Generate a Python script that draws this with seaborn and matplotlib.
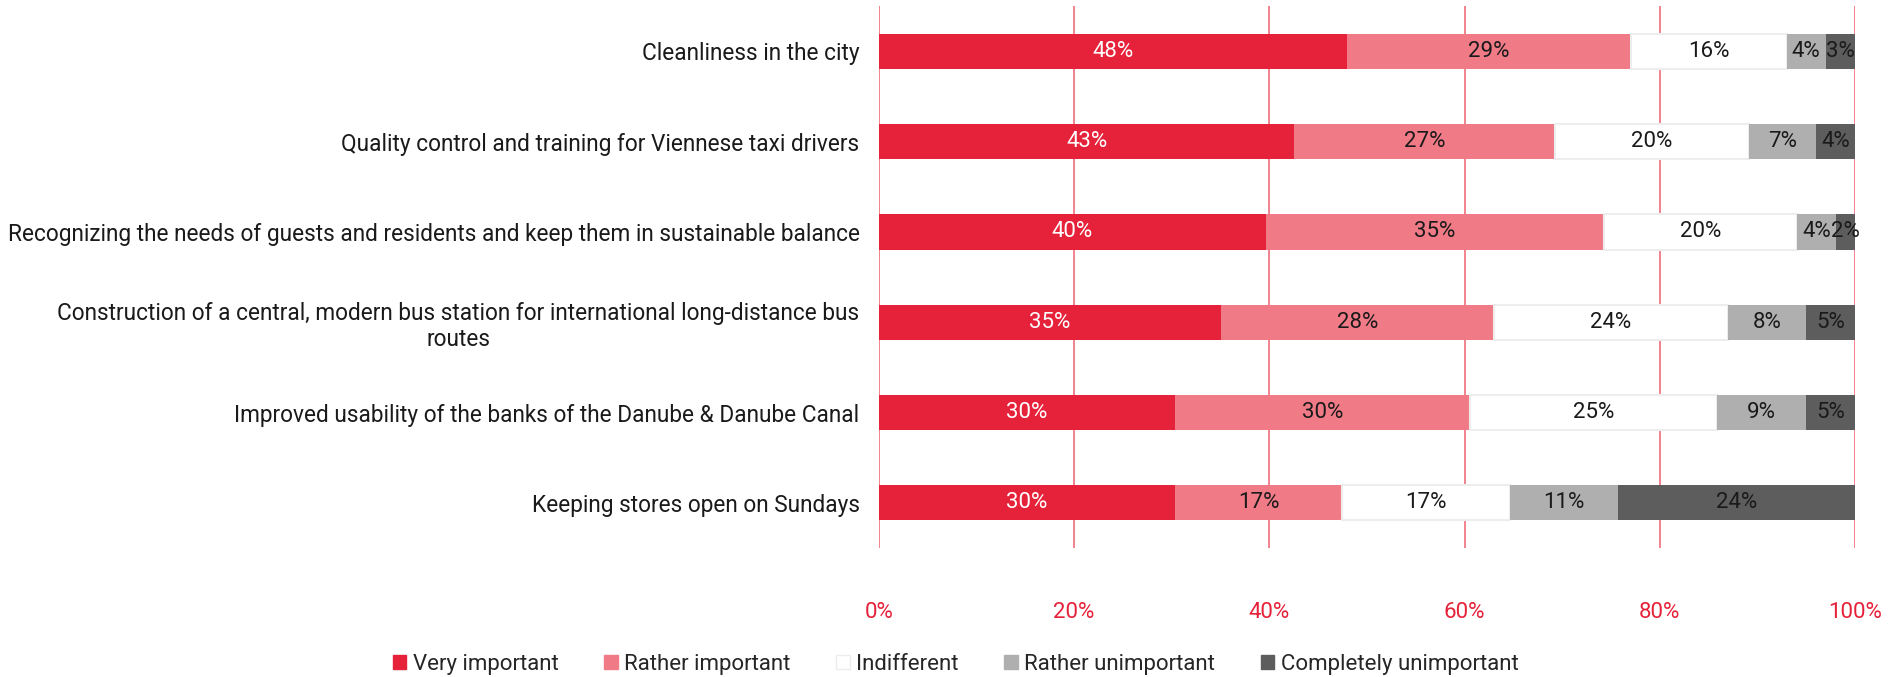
import numpy as np
import pandas as pd
import seaborn as sns
import matplotlib.pyplot as plt
from matplotlib.patches import Patch

categories = [
    "Cleanliness in the city",
    "Quality control and training for Viennese taxi drivers",
    "Recognizing the needs of guests and residents and keep them in sustainable balance",
    "Construction of a central, modern bus station for international long-distance bus\nroutes",
    "Improved usability of the banks of the Danube & Danube Canal",
    "Keeping stores open on Sundays",
]
series = ["Very important", "Rather important", "Indifferent", "Rather unimportant", "Completely unimportant"]
very_important = [48, 43, 40, 35, 30, 30]
rather_important = [29, 27, 35, 28, 30, 17]
indifferent = [16, 20, 20, 24, 25, 17]
rather_unimportant = [4, 7, 4, 8, 9, 11]
completely_unimportant = [3, 4, 2, 5, 5, 24]

colors = ["#E6223A", "#F07A86", "#FFFFFF", "#AFAFAF", "#5D5D5D"]
text_colors = ["white", "#1a1a1a", "#1a1a1a", "#1a1a1a", "#1a1a1a"]
red = "#E6223A"
grid_red = "#F07A86"

sns.set_theme(style="white")
plt.rcParams["font.family"] = ["Roboto", "DejaVu Sans"]

values = np.array([very_important, rather_important, indifferent,
                   rather_unimportant, completely_unimportant], dtype=float)
# bars are shown as 100% stacked
shares = values / values.sum(axis=0) * 100

fig = plt.figure(figsize=(18.89, 6.77), dpi=100)
ax = fig.add_axes([0.4653, 0.1905, 0.5167, 0.8005])

left = np.zeros(len(categories))
for i, name in enumerate(series):
    df = pd.DataFrame({"category": categories, "share": shares[i]})
    edge = "#EDEDED" if name == "Indifferent" else colors[i]
    sns.barplot(data=df, x="share", y="category", orient="h", color=colors[i],
                saturation=1, width=0.39, left=left, edgecolor=edge,
                linewidth=1.5 if name == "Indifferent" else 0, ax=ax, zorder=3)
    for j in range(len(categories)):
        ax.text(left[j] + shares[i][j] / 2, j, f"{int(values[i][j])}%",
                ha="center", va="center", fontsize=16, color=text_colors[i], zorder=4)
    left = left + shares[i]

ax.set_xlim(0, 100)
ax.set_ylim(5.5, -0.5)
ax.set_xticks(np.arange(0, 101, 20))
ax.set_xticklabels([f"{t}%" for t in range(0, 101, 20)], color=red, fontsize=16)
ax.tick_params(axis="x", length=0, pad=39)
ax.tick_params(axis="y", length=0, pad=14, labelsize=16.25)
for lab in ax.get_yticklabels():
    lab.set_multialignment("center")
    lab.set_color("#1a1a1a")
ax.set_xlabel("")
ax.set_ylabel("")
for x in range(0, 101, 20):
    ax.axvline(x, color=grid_red, lw=1.3, zorder=1)
sns.despine(ax=ax, left=True, bottom=True)

handles = [Patch(facecolor=c, edgecolor=("#EDEDED" if c == "#FFFFFF" else c)) for c in colors]
fig.legend(handles, series, loc="center", bbox_to_anchor=(0.506, 0.019), ncol=5,
           frameon=False, fontsize=16, handlelength=0.6, handleheight=0.6,
           handletextpad=0.3, columnspacing=2.05)

fig.savefig("out.png", dpi=100)
